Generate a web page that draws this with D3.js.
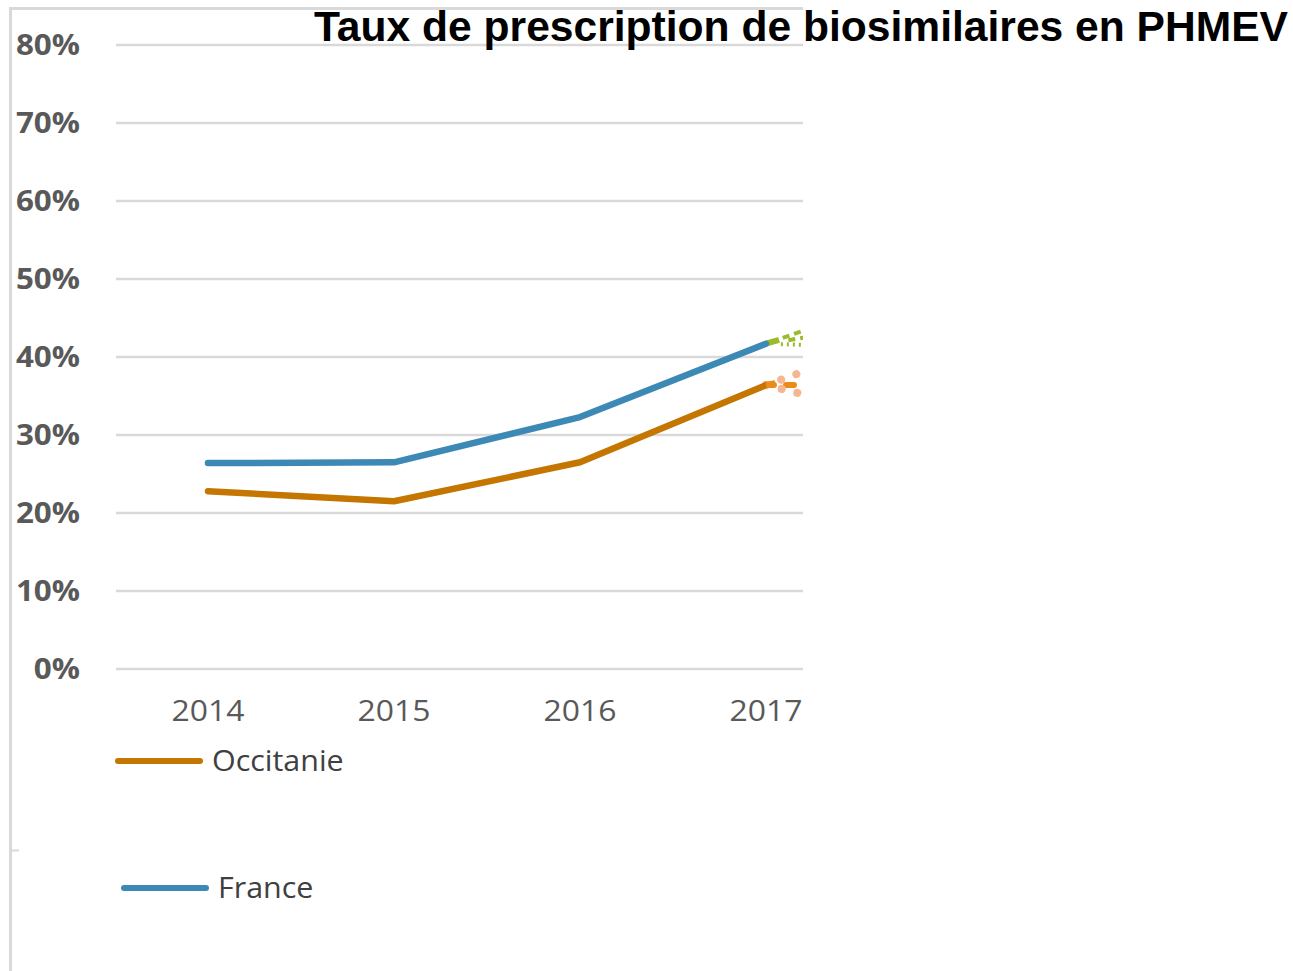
<!DOCTYPE html>
<html>
<head>
<meta charset="utf-8">
<script src="https://cdn.jsdelivr.net/npm/d3@7/dist/d3.min.js"></script>
<style>
  html, body { margin: 0; padding: 0; background: #fff; }
  svg { display: block; }
</style>
</head>
<body>
<svg id="chart" width="1293" height="971"></svg>
<script>
// --- Data ---
const YEARS = [2014, 2015, 2016, 2017];
const Y_TICKS = [0, 0.1, 0.2, 0.3, 0.4, 0.5, 0.6, 0.7, 0.8];
const OCCITANIE = [0.228, 0.215, 0.265, 0.364];
const FRANCE = [0.264, 0.265, 0.323, 0.417];

// projections past 2017 (cut off by the frame)
const PROJ_FRANCE = [
  { name: "haute", values: [0.417, 0.50], dash: "7,5", start: 0.09 },
  { name: "centrale", values: [0.417, 0.455], dash: "7,5", start: 0.12 },
  { name: "basse", values: [0.417, 0.41], dash: "2,4", start: 0.08 }
];
const PROJ_OCC = [
  { name: "haute", values: [0.364, 0.45] },
  { name: "centrale", values: [0.364, 0.365] },
  { name: "basse", values: [0.364, 0.305] }
];

const COLORS = {
  occ: "#c47600",
  fr: "#3d89b6",
  green: "#9bbb2c",
  orange: "#ea8c1c",
  peach: "#f8b592",
  grid: "#d9d9d9",
  label: "#595959"
};

const svg = d3.select("#chart");

const x = d3.scaleLinear().domain([2014, 2017]).range([208, 766]);
const y = d3.scaleLinear().domain([0, 0.8]).range([669, 45]);

// --- Cadre ---
svg.append("line")
  .attr("x1", 10.5).attr("x2", 10.5).attr("y1", 7).attr("y2", 971)
  .attr("stroke", COLORS.grid).attr("stroke-width", 3);
svg.append("line")
  .attr("x1", 9).attr("x2", 803).attr("y1", 8.5).attr("y2", 8.5)
  .attr("stroke", COLORS.grid).attr("stroke-width", 3);
svg.append("line")
  .attr("x1", 12).attr("x2", 19).attr("y1", 850.5).attr("y2", 850.5)
  .attr("stroke", COLORS.grid).attr("stroke-width", 2);

// --- Grille ---
svg.append("g").selectAll("line")
  .data(Y_TICKS).join("line")
  .attr("x1", 116).attr("x2", 803)
  .attr("y1", d => y(d)).attr("y2", d => y(d))
  .attr("stroke", COLORS.grid).attr("stroke-width", 2.5);

// Axe Y (labels)
svg.append("g").selectAll("text")
  .data(Y_TICKS).join("text")
  .attr("x", 80).attr("y", d => y(d))
  .attr("dy", "0.36em")
  .attr("text-anchor", "end")
  .attr("font-family", "Open Sans, sans-serif")
  .attr("font-weight", "700")
  .attr("font-size", "28.5px")
  .attr("fill", COLORS.label)
  .attr("transform", d => `translate(80,${y(d)}) scale(1.1,1) translate(-80,${-y(d)})`)
  .text(d => d3.format(".0%")(d));

// Axe X (labels)
svg.append("g").selectAll("text")
  .data(YEARS).join("text")
  .attr("x", d => x(d)).attr("y", 711)
  .attr("dy", "0.36em")
  .attr("text-anchor", "middle")
  .attr("font-family", "Open Sans, sans-serif")
  .attr("font-size", "29px")
  .attr("fill", COLORS.label)
  .attr("transform", d => `translate(${x(d)},0) scale(1.1,1) translate(${-x(d)},0)`)
  .text(d => d);

// --- Lignes ---
const clip = svg.append("defs").append("clipPath").attr("id", "plotClip");
clip.append("rect").attr("x", 0).attr("y", 0).attr("width", 803).attr("height", 971);

const plot = svg.append("g").attr("clip-path", "url(#plotClip)");
const line = d3.line().x(d => x(d[0])).y(d => y(d[1]));

// projections France (vert)
PROJ_FRANCE.forEach(p => {
  const interp = d3.interpolate(p.values[0], p.values[1]);
  plot.append("path")
    .attr("d", line([[2017 + p.start, interp(p.start)], [2018, p.values[1]]]))
    .attr("fill", "none")
    .attr("stroke", COLORS.green)
    .attr("stroke-width", 4)
    .attr("stroke-dasharray", p.dash);
});
plot.append("path")
  .attr("d", line([[2017, FRANCE[3]], [2017.07, FRANCE[3] + 0.005]]))
  .attr("fill", "none").attr("stroke", COLORS.green).attr("stroke-width", 6);

// projections Occitanie (orange)
PROJ_OCC.forEach((p, i) => {
  const pts = [[2017, p.values[0]], [2018, p.values[1]]];
  plot.append("path")
    .attr("d", line(pts))
    .attr("fill", "none")
    .attr("stroke", i === 1 ? COLORS.orange : COLORS.peach)
    .attr("stroke-width", i === 1 ? 6 : 8)
    .attr("stroke-linecap", "round")
    .attr("stroke-dasharray", i === 1 ? "8,12" : "0.1,16");
});

plot.append("path")
  .datum(YEARS.map((yr, i) => [yr, FRANCE[i]]))
  .attr("d", line)
  .attr("fill", "none")
  .attr("stroke", COLORS.fr)
  .attr("stroke-width", 6.5)
  .attr("stroke-linecap", "round")
  .attr("stroke-linejoin", "round");

plot.append("path")
  .datum(YEARS.map((yr, i) => [yr, OCCITANIE[i]]))
  .attr("d", line)
  .attr("fill", "none")
  .attr("stroke", COLORS.occ)
  .attr("stroke-width", 6.5)
  .attr("stroke-linecap", "round")
  .attr("stroke-linejoin", "round");

plot.append("path")
  .attr("d", line([[2017, OCCITANIE[3]], [2017.05, OCCITANIE[3] + 0.002]]))
  .attr("fill", "none").attr("stroke", COLORS.orange).attr("stroke-width", 6.5);

// --- Légende ---
const legend = [
  { label: "Occitanie", color: COLORS.occ, x: 115, y: 761 },
  { label: "France", color: COLORS.fr, x: 121, y: 888 }
];
const lg = svg.append("g").selectAll("g").data(legend).join("g");
lg.append("line")
  .attr("x1", d => d.x + 3).attr("x2", d => d.x + 85)
  .attr("y1", d => d.y).attr("y2", d => d.y)
  .attr("stroke", d => d.color)
  .attr("stroke-width", 6)
  .attr("stroke-linecap", "round");
lg.append("text")
  .attr("x", d => d.x + 97).attr("y", d => d.y)
  .attr("dy", "0.36em")
  .attr("font-family", "Open Sans, sans-serif")
  .attr("font-size", "29px")
  .attr("fill", "#404040")
  .attr("transform", d => `translate(${d.x + 97},0) scale(1.05,1) translate(${-(d.x + 97)},0)`)
  .text(d => d.label);

// --- Titre ---
svg.append("text")
  .attr("x", 314).attr("y", 41)
  .attr("font-family", "Liberation Sans, Arial, sans-serif")
  .attr("font-weight", "700")
  .attr("font-size", "42.5px")
  .attr("textLength", 974)
  .attr("lengthAdjust", "spacingAndGlyphs")
  .attr("fill", "#000")
  .text("Taux de prescription de biosimilaires en PHMEV");
</script>
</body>
</html>
